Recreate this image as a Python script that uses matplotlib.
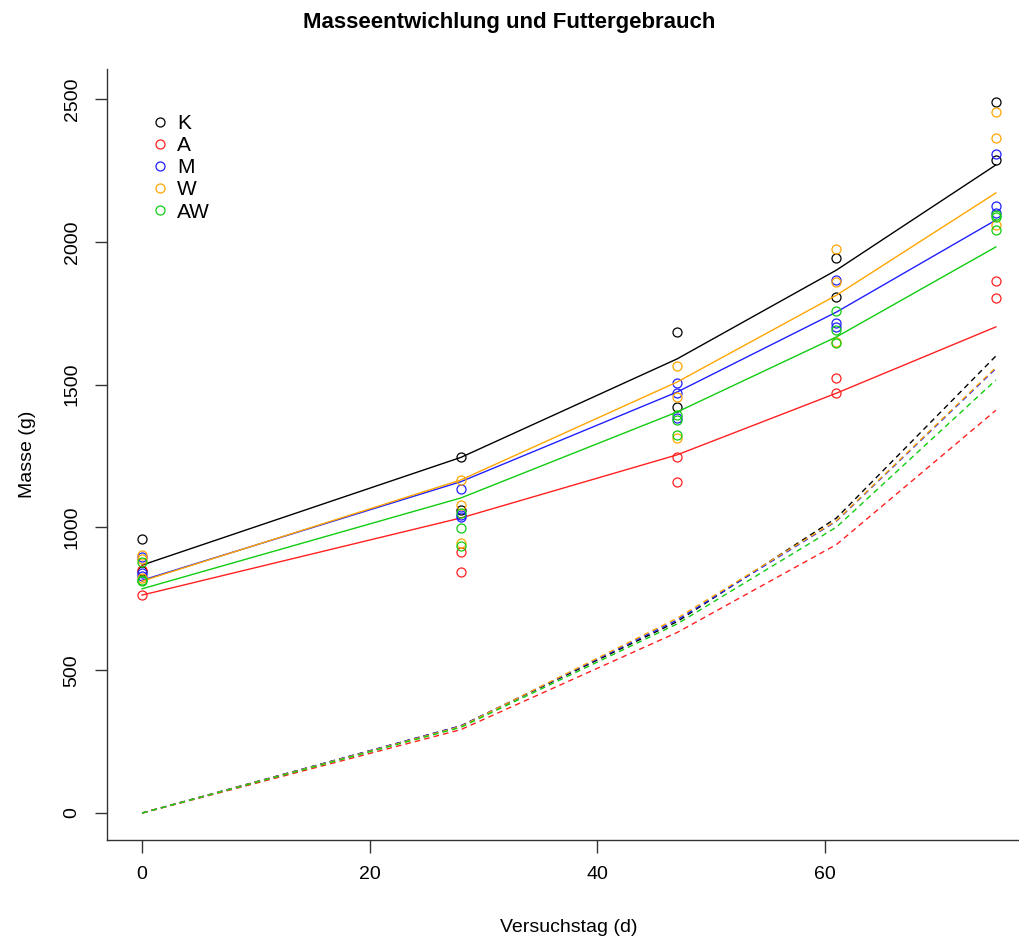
import numpy as np
import matplotlib.pyplot as plt

plt.rcParams['font.family'] = ['Liberation Sans', 'DejaVu Sans']

days = [0, 28, 47, 61, 75]
groups = ['K', 'A', 'M', 'W', 'AW']
colors = ['black', '#ff2020', '#2020ff', '#ffa500', '#11cc11']

# single animals (g), one list per measuring day
obs_K = [[959, 848], [1247, 1060], [1684, 1421], [1943, 1807], [2490, 2286]]
obs_A = [[852, 763], [914, 844], [1247, 1159], [1523, 1470], [1863, 1803]]
obs_M = [[895, 840, 830], [1134, 1045, 1035], [1506, 1383, 1470], [1866, 1716, 1702], [2307, 2125, 2101]]
obs_W = [[905, 890, 823], [1166, 1078, 945], [1565, 1456, 1313], [1975, 1860, 1649], [2455, 2364, 2059]]
obs_AW = [[880, 816, 812], [998, 935, 1050], [1394, 1376, 1323], [1758, 1691, 1646], [2094, 2087, 2041]]

# fitted mass curves
fit_K = [868, 1245, 1590, 1901, 2269]
fit_A = [763, 1033, 1254, 1470, 1702]
fit_M = [815, 1160, 1474, 1754, 2076]
fit_W = [812, 1166, 1509, 1813, 2171]
fit_AW = [785, 1103, 1404, 1667, 1982]

# cumulative feed used (g)
feed_K = [0, 305, 670, 1033, 1600]
feed_A = [0, 292, 632, 940, 1410]
feed_M = [0, 305, 676, 1022, 1556]
feed_W = [0, 303, 682, 1024, 1560]
feed_AW = [0, 300, 662, 1001, 1516]

obs = [obs_K, obs_A, obs_M, obs_W, obs_AW]
fits = [fit_K, fit_A, fit_M, fit_W, fit_AW]
feeds = [feed_K, feed_A, feed_M, feed_W, feed_AW]

fig = plt.figure(figsize=(10.19, 9.41), dpi=100)
ax = fig.add_axes([107/1019, 1-840/941, (1030-107)/1019, (840-69)/941])

for name, col, ob, fit, feed in zip(groups, colors, obs, fits, feeds):
    xs = [d for d, vals in zip(days, ob) for v in vals]
    ys = [v for vals in ob for v in vals]
    ax.plot(xs, ys, ls='none', marker='o', ms=6.5, mfc='none', mec=col, mew=0.9, label=name)
    ax.plot(days, fit, color=col, lw=1.0)
    ax.plot(days, feed, color=col, lw=1.0, ls=(0, (4, 3)))

ax.set_xlim(-3.08, 78)
ax.set_ylim(-94.5, 2605)
ax.set_xticks([0, 20, 40, 60])
ax.set_yticks([0, 500, 1000, 1500, 2000, 2500])
for s in ['top', 'right']:
    ax.spines[s].set_visible(False)
for s in ['left', 'bottom']:
    ax.spines[s].set_linewidth(1.0)
    ax.spines[s].set_color('#333333')
ax.tick_params(length=9, width=1.0, color='#333333', labelsize=14, pad=10)
for lab in ax.get_yticklabels():
    lab.set_rotation(90)
    lab.set_va('center')

ax.set_xlabel('Versuchstag (d)', fontsize=14, labelpad=26)
ax.set_ylabel('Masse (g)', fontsize=14, labelpad=20)
fig.suptitle('Masseentwichlung und Futtergebrauch', fontsize=16, fontweight='bold', y=0.987)

ax.legend(loc='upper left', bbox_to_anchor=(0.035, 0.955), frameon=False, fontsize=15,
          handlelength=1.0, handletextpad=0.3, labelspacing=0.15, borderpad=0)

fig.savefig('out.png', dpi=100)
